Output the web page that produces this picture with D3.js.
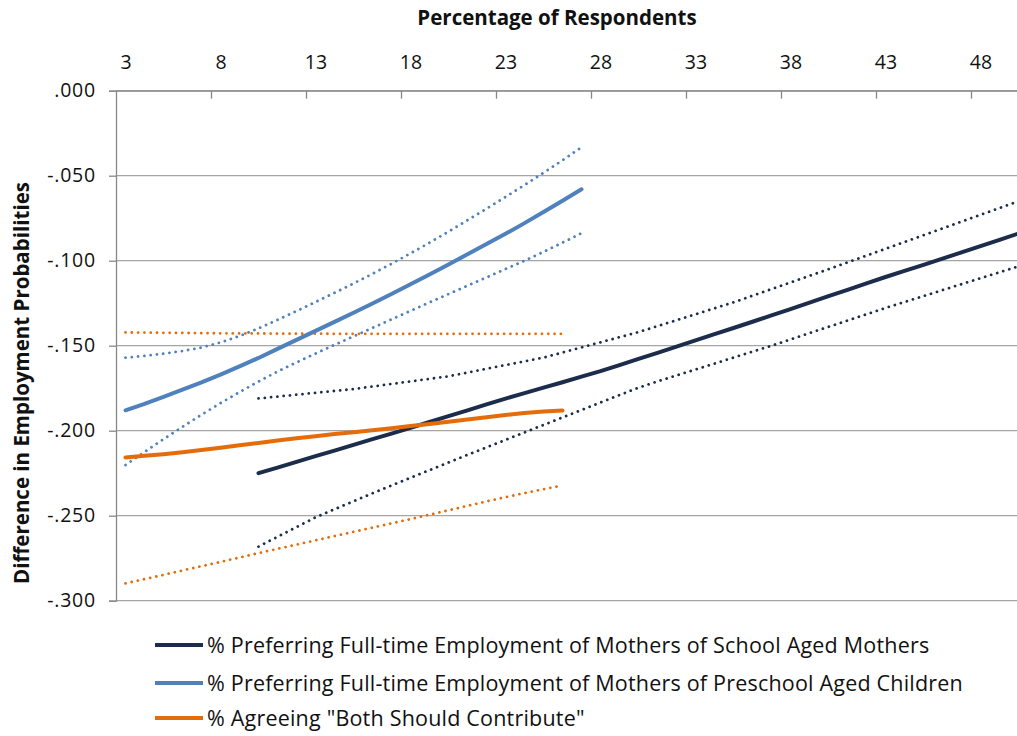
<!DOCTYPE html>
<html>
<head>
<meta charset="utf-8">
<script src="https://cdn.jsdelivr.net/npm/d3@7"></script>
<style>
  html, body { margin: 0; padding: 0; background: #fff; }
  svg { display: block; font-family: "Open Sans", Lato, sans-serif; }
</style>
</head>
<body>
<svg id="chart" width="1017" height="736"></svg>
<script>
// Percentage of respondents (category axis)
const percentRespondents = [3,4,5,6,7,8,9,10,11,12,13,14,15,16,17,18,19,20,21,22,23,24,25,26,
  27,28,29,30,31,32,33,34,35,36,37,38,39,40,41,42,43,44,45,46,47,48,49,50];
const xTickLabels = [3,8,13,18,23,28,33,38,43,48];
const yTickValues = [0,-0.05,-0.1,-0.15,-0.2,-0.25,-0.3];

// % preferring full-time employment of mothers of school aged children (starts at 10)
const schoolEst = [null,null,null,null,null,null,null,
  -0.225,-0.2217,-0.2183,-0.2150,-0.2117,-0.2083,-0.2050,-0.2017,-0.1983,-0.1949,-0.1914,
  -0.1880,-0.1845,-0.1811,-0.1779,-0.1747,-0.1715,-0.1682,-0.1650,-0.1614,-0.1578,-0.1542,
  -0.1506,-0.1469,-0.1432,-0.1396,-0.1359,-0.1322,-0.1285,-0.1247,-0.1209,-0.1171,-0.1133,
  -0.1096,-0.1060,-0.1024,-0.0988,-0.0951,-0.0914,-0.0877,-0.0840];
const schoolUpper = [null,null,null,null,null,null,null,
  -0.181,-0.1799,-0.1788,-0.1777,-0.1766,-0.1755,-0.1740,-0.1725,-0.1710,-0.1695,-0.1680,
  -0.1658,-0.1636,-0.1614,-0.1592,-0.1570,-0.1540,-0.1510,-0.1480,-0.1450,-0.1420,-0.1385,
  -0.1350,-0.1315,-0.1280,-0.1245,-0.1206,-0.1167,-0.1128,-0.1089,-0.1050,-0.1010,-0.0970,
  -0.0930,-0.0890,-0.0850,-0.0810,-0.0770,-0.0730,-0.0690,-0.0650];
const schoolLower = [null,null,null,null,null,null,null,
  -0.2682,-0.2624,-0.2567,-0.2510,-0.2462,-0.2415,-0.2368,-0.2322,-0.2277,-0.2232,-0.2187,
  -0.2142,-0.2098,-0.2054,-0.2010,-0.1966,-0.1922,-0.1878,-0.1834,-0.1790,-0.1747,-0.1710,
  -0.1675,-0.1640,-0.1605,-0.1570,-0.1535,-0.1500,-0.1463,-0.1426,-0.1389,-0.1352,-0.1315,
  -0.1278,-0.1243,-0.1208,-0.1173,-0.1138,-0.1103,-0.1068,-0.1033];

// % preferring full-time employment of mothers of preschool aged children (3 to 27)
const preschoolEst = [-0.1880,-0.1842,-0.1801,-0.1759,-0.1716,-0.1670,-0.1622,-0.1572,-0.1519,
  -0.1466,-0.1413,-0.1360,-0.1306,-0.1252,-0.1196,-0.1139,-0.1081,-0.1022,-0.0962,-0.0902,
  -0.0842,-0.0779,-0.0714,-0.0647,-0.0580];
const preschoolUpper = [-0.1570,-0.1560,-0.1547,-0.1531,-0.1511,-0.1481,-0.1443,-0.1398,-0.1348,
  -0.1296,-0.1243,-0.1189,-0.1134,-0.1077,-0.1018,-0.0957,-0.0894,-0.0829,-0.0762,-0.0694,
  -0.0625,-0.0555,-0.0483,-0.0409,-0.0333];
const preschoolLower = [-0.2202,-0.2125,-0.2050,-0.1977,-0.1906,-0.1838,-0.1773,-0.1711,-0.1652,
  -0.1598,-0.1546,-0.1495,-0.1445,-0.1395,-0.1345,-0.1295,-0.1245,-0.1196,-0.1147,-0.1098,
  -0.1049,-0.1000,-0.0948,-0.0894,-0.0838];

// % agreeing "both should contribute" (3 to 26)
const bothEst = [-0.2157,-0.2148,-0.2138,-0.2127,-0.2114,-0.2100,-0.2086,-0.2072,-0.2058,
  -0.2045,-0.2032,-0.2020,-0.2009,-0.1998,-0.1986,-0.1973,-0.1960,-0.1947,-0.1934,-0.1921,
  -0.1908,-0.1896,-0.1887,-0.1881];
const bothUpper = [-0.1422,-0.1423,-0.1424,-0.1425,-0.1426,-0.1427,-0.1428,-0.1428,-0.1429,
  -0.1429,-0.1429,-0.1430,-0.1430,-0.1430,-0.1430,-0.1430,-0.1430,-0.1430,-0.1430,-0.1430,
  -0.1430,-0.1430,-0.1430,-0.1430];
const bothLower = [-0.2898,-0.2873,-0.2848,-0.2822,-0.2797,-0.2772,-0.2746,-0.2720,-0.2695,
  -0.2670,-0.2645,-0.2620,-0.2595,-0.2570,-0.2545,-0.2520,-0.2494,-0.2468,-0.2442,-0.2416,
  -0.2391,-0.2367,-0.2344,-0.2322];

const seriesNames = [
  "% Preferring Full-time Employment of Mothers of School Aged Mothers",
  "% Preferring Full-time Employment of Mothers of Preschool Aged Children",
  "% Agreeing \"Both Should Contribute\""
];
const seriesColors = ["#1b2d4a", "#4f81bd", "#e46c0a"];

const svg = d3.select("#chart");
const plot = { left: 116, top: 90.7, right: 1028, bottom: 600.7 };
const font = "'Open Sans', sans-serif";
const textColor = "#111";

// Each category occupies one band; values sit at band centres
const x = d3.scaleLinear()
  .domain([percentRespondents[0] - 0.5, percentRespondents[percentRespondents.length - 1] + 0.5])
  .range([plot.left, plot.right]);
const y = d3.scaleLinear().domain([-0.3, 0]).range([plot.bottom, plot.top]);

const gridColor = "#a5a5a5";
const axisColor = "#888";

// Horizontal gridlines
svg.append("g").selectAll("line").data(yTickValues).join("line")
  .attr("x1", plot.left).attr("x2", plot.right)
  .attr("y1", d => y(d)).attr("y2", d => y(d))
  .attr("stroke", gridColor).attr("stroke-width", 1.3);

// Left axis with labels like ".000" and "-.050"
const fmtY = d => { const s = d3.format(".3f")(Math.abs(d)).replace(/^0/, ""); return (d < 0 ? "-" : "") + s; };
const yAxis = svg.append("g").attr("transform", `translate(${plot.left},0)`)
  .call(d3.axisLeft(y).tickValues(yTickValues).tickFormat(fmtY).tickSize(7).tickPadding(13));
yAxis.select(".domain").attr("stroke", axisColor).attr("stroke-width", 1.3);
yAxis.selectAll(".tick line").attr("stroke", axisColor).attr("stroke-width", 1.3);
yAxis.selectAll("text").attr("font-size", 19.5).attr("letter-spacing", 0.8)
  .attr("fill", textColor).attr("font-family", font);

// Top axis: labels centred on categories, tick marks on category boundaries
const xAxisLabels = svg.append("g").attr("transform", `translate(0,${plot.top})`)
  .call(d3.axisTop(x).tickValues(xTickLabels).tickFormat(d3.format("d")).tickSize(0).tickPadding(22));
xAxisLabels.select(".domain").attr("stroke", axisColor).attr("stroke-width", 1.3);
xAxisLabels.selectAll("text").attr("font-size", 19.5).attr("fill", textColor).attr("font-family", font);

const xAxisTicks = svg.append("g").attr("transform", `translate(0,${plot.top})`)
  .call(d3.axisTop(x).tickValues(xTickLabels.slice(1).map(d => d - 0.5)).tickFormat("").tickSize(-8));
xAxisTicks.select(".domain").remove();
xAxisTicks.selectAll(".tick line").attr("stroke", axisColor).attr("stroke-width", 1.3);

// Axis titles
svg.append("text").attr("x", 557).attr("y", 25).attr("text-anchor", "middle")
  .attr("font-family", font).attr("font-size", 20.5).attr("font-weight", "bold").attr("fill", textColor)
  .text("Percentage of Respondents");
svg.append("text").attr("transform", `translate(29,383) rotate(-90)`).attr("text-anchor", "middle")
  .attr("font-family", font).attr("font-size", 20.5).attr("font-weight", "bold").attr("fill", textColor)
  .text("Difference in Employment Probabilities");

// Series lines
const lineGen = d3.line()
  .defined(d => d != null)
  .x((d, i) => x(percentRespondents[i]))
  .y(d => y(d));

const series = [
  { values: schoolEst, color: seriesColors[0], dotted: false },
  { values: schoolUpper, color: seriesColors[0], dotted: true },
  { values: schoolLower, color: seriesColors[0], dotted: true },
  { values: preschoolEst, color: seriesColors[1], dotted: false },
  { values: preschoolUpper, color: seriesColors[1], dotted: true },
  { values: preschoolLower, color: seriesColors[1], dotted: true },
  { values: bothEst, color: seriesColors[2], dotted: false },
  { values: bothUpper, color: seriesColors[2], dotted: true },
  { values: bothLower, color: seriesColors[2], dotted: true }
];

const drawOrder = [1,2,4,5,7,8,0,3,6];
const lines = svg.append("g");
drawOrder.forEach(k => {
  const s = series[k];
  lines.append("path")
    .attr("d", lineGen(s.values))
    .attr("fill", "none")
    .attr("stroke", s.color)
    .attr("stroke-width", s.dotted ? 2.8 : 4)
    .attr("stroke-linecap", "round")
    .attr("stroke-linejoin", "round")
    .attr("stroke-dasharray", s.dotted ? "0.01 6.3" : null);
});

// Legend
const legend = svg.append("g");
const legendRows = [645, 683, 718];
seriesNames.forEach((name, i) => {
  legend.append("line").attr("x1", 155).attr("x2", 203)
    .attr("y1", legendRows[i]).attr("y2", legendRows[i])
    .attr("stroke", seriesColors[i]).attr("stroke-width", 4);
  legend.append("text").attr("x", 207).attr("y", legendRows[i]).attr("dy", "0.36em")
    .attr("font-family", font).attr("font-size", 21.5).attr("letter-spacing", 0.2)
    .attr("fill", textColor).text(name);
});
</script>
</body>
</html>
